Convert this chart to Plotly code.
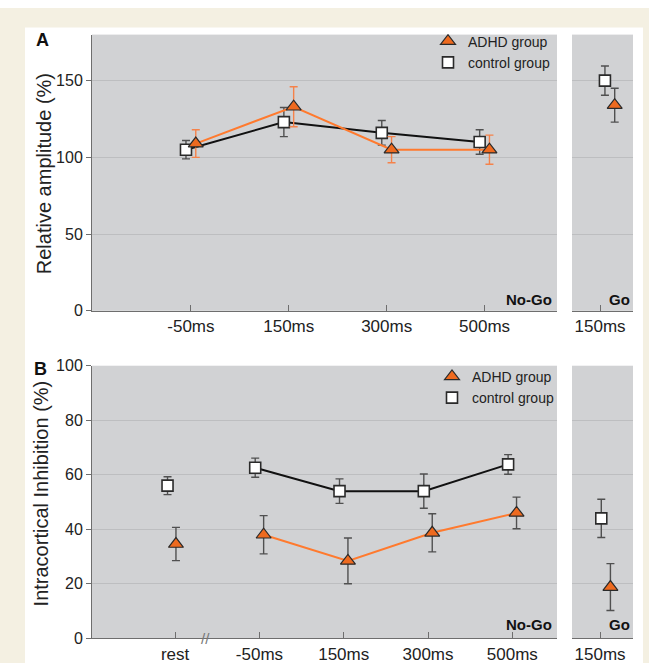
import plotly.graph_objects as go

# ---------------- data ----------------
a_categories = ["-50ms", "150ms", "300ms", "500ms"]
a_adhd = [109, 133, 105, 105]
a_adhd_err = [9, 13, 8.5, 9.5]
a_ctrl = [105, 123, 116, 110]
a_ctrl_err = [6, 9.5, 8, 8]
a_go_adhd = [134]
a_go_adhd_err = [11]
a_go_ctrl = [150]
a_go_ctrl_err = [9.5]

b_categories = ["rest", "-50ms", "150ms", "300ms", "500ms"]
b_adhd = [34.6, 38, 28.4, 38.7, 46]
b_adhd_err = [6.1, 7, 8.4, 7, 5.8]
b_ctrl = [56, 62.6, 54, 54, 63.8]
b_ctrl_err = [3.3, 3.5, 4.5, 6.3, 3.6]
b_go_adhd = [18.8]
b_go_adhd_err = [8.6]
b_go_ctrl = [44]
b_go_ctrl_err = [7]

go_categories = ["150ms"]
a_yticks = [0, 50, 100, 150]
b_yticks = [0, 20, 40, 60, 80, 100]

# ---------------- style ----------------
W, H = 649, 672
BEIGE = "#f4f0e2"
PLOTBG = "#d1d2d4"
GRID = "#bdbec0"
AXIS = "#6e6e6e"
ORANGE_FILL = "#ee6a1f"
ORANGE_LINE = "#ff7a2e"
ORANGE_ERR = "#f5824a"
DARK = "#2a2a2a"
ERR_GRAY = "#505050"
FONT = "Liberation Sans, Arial, sans-serif"

def px_x(v):
    return v / W

def px_y(v):
    return 1 - v / H

nogo_dom = [px_x(92), px_x(557)]
go_dom = [px_x(572), px_x(633)]
a_dom = [px_y(310.7), px_y(27.3)]
b_dom = [px_y(646.7), px_y(367)]

tri = dict(symbol="triangle-up", size=13, color=ORANGE_FILL, line=dict(color=DARK, width=1.2))
sq = dict(symbol="square", size=11, color="white", line=dict(color=DARK, width=1.6))

fig = go.Figure()

def err(vals, color):
    return dict(type="data", array=vals, visible=True, color=color, thickness=1.4, width=4)

# positions for categories
a_idx = [i + 1 for i in range(len(a_categories))]
b_idx = list(range(len(b_categories)))
go_pos = 0.46

# ---- panel A, No-Go ----
fig.add_trace(go.Scatter(x=[i - 0.05 for i in a_idx], y=a_ctrl, mode="lines+markers",
                         line=dict(color="#111111", width=2), marker=sq,
                         error_y=err(a_ctrl_err, ERR_GRAY), showlegend=False,
                         xaxis="x", yaxis="y"))
fig.add_trace(go.Scatter(x=[i + 0.05 for i in a_idx], y=a_adhd, mode="lines+markers",
                         line=dict(color=ORANGE_LINE, width=2), marker=tri,
                         error_y=err(a_adhd_err, ORANGE_ERR), showlegend=False,
                         xaxis="x", yaxis="y"))
# ---- panel A, Go ----
fig.add_trace(go.Scatter(x=[go_pos + 0.08], y=a_go_ctrl, mode="markers", marker=sq,
                         error_y=err(a_go_ctrl_err, ERR_GRAY), showlegend=False,
                         xaxis="x2", yaxis="y2"))
fig.add_trace(go.Scatter(x=[go_pos + 0.24], y=a_go_adhd, mode="markers", marker=tri,
                         error_y=err(a_go_adhd_err, ERR_GRAY), showlegend=False,
                         xaxis="x2", yaxis="y2"))

# ---- panel B, No-Go ----
fig.add_trace(go.Scatter(x=[b_idx[0] - 0.09], y=b_ctrl[:1], mode="markers", marker=sq,
                         error_y=err(b_ctrl_err[:1], ERR_GRAY), showlegend=False,
                         xaxis="x3", yaxis="y3"))
fig.add_trace(go.Scatter(x=[b_idx[0] + 0.01], y=b_adhd[:1], mode="markers", marker=tri,
                         error_y=err(b_adhd_err[:1], ERR_GRAY), showlegend=False,
                         xaxis="x3", yaxis="y3"))
fig.add_trace(go.Scatter(x=[i - 0.05 for i in b_idx[1:]], y=b_ctrl[1:], mode="lines+markers",
                         line=dict(color="#111111", width=2), marker=sq,
                         error_y=err(b_ctrl_err[1:], ERR_GRAY), showlegend=False,
                         xaxis="x3", yaxis="y3"))
fig.add_trace(go.Scatter(x=[i + 0.05 for i in b_idx[1:]], y=b_adhd[1:], mode="lines+markers",
                         line=dict(color=ORANGE_LINE, width=2), marker=tri,
                         error_y=err(b_adhd_err[1:], ERR_GRAY), showlegend=False,
                         xaxis="x3", yaxis="y3"))
# ---- panel B, Go ----
fig.add_trace(go.Scatter(x=[go_pos + 0.02], y=b_go_ctrl, mode="markers", marker=sq,
                         error_y=err(b_go_ctrl_err, ERR_GRAY), showlegend=False,
                         xaxis="x4", yaxis="y4"))
fig.add_trace(go.Scatter(x=[go_pos + 0.17], y=b_go_adhd, mode="markers", marker=tri,
                         error_y=err(b_go_adhd_err, ERR_GRAY), showlegend=False,
                         xaxis="x4", yaxis="y4"))

# ---- legend entries ----
for lg in ["legend", "legend2"]:
    fig.add_trace(go.Scatter(x=[None], y=[None], mode="markers", marker=tri,
                             name="ADHD group", legend=lg, showlegend=True,
                             xaxis="x" if lg == "legend" else "x3",
                             yaxis="y" if lg == "legend" else "y3"))
    fig.add_trace(go.Scatter(x=[None], y=[None], mode="markers", marker=sq,
                             name="control group", legend=lg, showlegend=True,
                             xaxis="x" if lg == "legend" else "x3",
                             yaxis="y" if lg == "legend" else "y3"))

tickfont_x = dict(family=FONT, size=17, color="#222222")
tickfont_y = dict(family=FONT, size=16, color="#222222")

def xax(domain, rng, tickvals, ticktext, anchor):
    return dict(domain=domain, range=rng, tickvals=tickvals, ticktext=ticktext,
                anchor=anchor, showgrid=False, zeroline=False, showline=True,
                linecolor=AXIS, linewidth=1, ticks="inside", ticklen=6,
                tickcolor=AXIS, tickfont=tickfont_x, fixedrange=True)

def yax(domain, rng, tickvals, anchor, labels=True):
    return dict(domain=domain, range=rng, tickvals=tickvals, anchor=anchor,
                showgrid=True, gridcolor=GRID, gridwidth=1, zeroline=False,
                showline=labels, linecolor=AXIS, linewidth=1,
                ticks="outside" if labels else "", ticklen=5, tickcolor=AXIS,
                showticklabels=labels, tickfont=tickfont_y, fixedrange=True)

legend_common = dict(font=dict(family=FONT, size=14, color="#222222"),
                     bgcolor="rgba(0,0,0,0)", itemwidth=30, tracegroupgap=0,
                     xanchor="left", yanchor="top")

fig.update_layout(
    width=W, height=H,
    margin=dict(l=0, r=0, t=0, b=0),
    paper_bgcolor="white",
    plot_bgcolor=PLOTBG,
    font=dict(family=FONT),
    hovermode=False,
    xaxis=xax(nogo_dom, [-0.01, 4.74], a_idx, a_categories, "y"),
    yaxis=yax(a_dom, [0, 180], a_yticks, "x"),
    xaxis2=xax(go_dom, [0, 1], [go_pos], go_categories, "y2"),
    yaxis2=yax(a_dom, [0, 180], a_yticks, "x2", labels=False),
    xaxis3=xax(nogo_dom, [-0.986, 4.53], b_idx, b_categories, "y3"),
    yaxis3=yax(b_dom, [0, 100], b_yticks, "x3"),
    xaxis4=xax(go_dom, [0, 1], [go_pos], go_categories, "y4"),
    yaxis4=yax(b_dom, [0, 100], b_yticks, "x4", labels=False),
    legend=dict(x=px_x(428), y=px_y(18), **legend_common),
    legend2=dict(x=px_x(432), y=px_y(362), **legend_common),
    shapes=[
        dict(type="rect", xref="paper", yref="paper", x0=0, x1=px_x(25),
             y0=0, y1=1, fillcolor=BEIGE, line=dict(width=0), layer="below"),
        dict(type="rect", xref="paper", yref="paper", x0=0, x1=1,
             y0=px_y(20), y1=1, fillcolor=BEIGE, line=dict(width=0), layer="below"),
        dict(type="rect", xref="paper", yref="paper", x0=px_x(643), x1=1,
             y0=0, y1=1, fillcolor=BEIGE, line=dict(width=0), layer="below"),
    ],
)

ann = []
def text(x, y, s, size, bold=False, xanchor="center", yanchor="middle", angle=0, color="#111111"):
    ann.append(dict(x=px_x(x), y=px_y(y), xref="paper", yref="paper", text=f"<b>{s}</b>" if bold else s,
                    showarrow=False, xanchor=xanchor, yanchor=yanchor, textangle=angle,
                    font=dict(family=FONT, size=size, color=color)))

text(42.5, 33, "A", 18, bold=True)
text(40.5, 370, "B", 18, bold=True)
text(43.5, 170, "Relative amplitude (%)", 20, angle=-90, color="#222222")
text(41, 498, "Intracortical Inhibition (%)", 20, angle=-90, color="#222222")
text(554, 299, "No-Go", 15, bold=True, xanchor="right")
text(632, 299, "Go", 15, bold=True, xanchor="right")
text(554, 633, "No-Go", 15, bold=True, xanchor="right")
text(632, 633, "Go", 15, bold=True, xanchor="right")
text(205, 647, "//", 15, color="#777777")
fig.update_layout(annotations=ann)

fig.write_html("out.html", config={"displayModeBar": False},
               post_script="document.body.style.margin='0';document.body.style.overflow='hidden';")
